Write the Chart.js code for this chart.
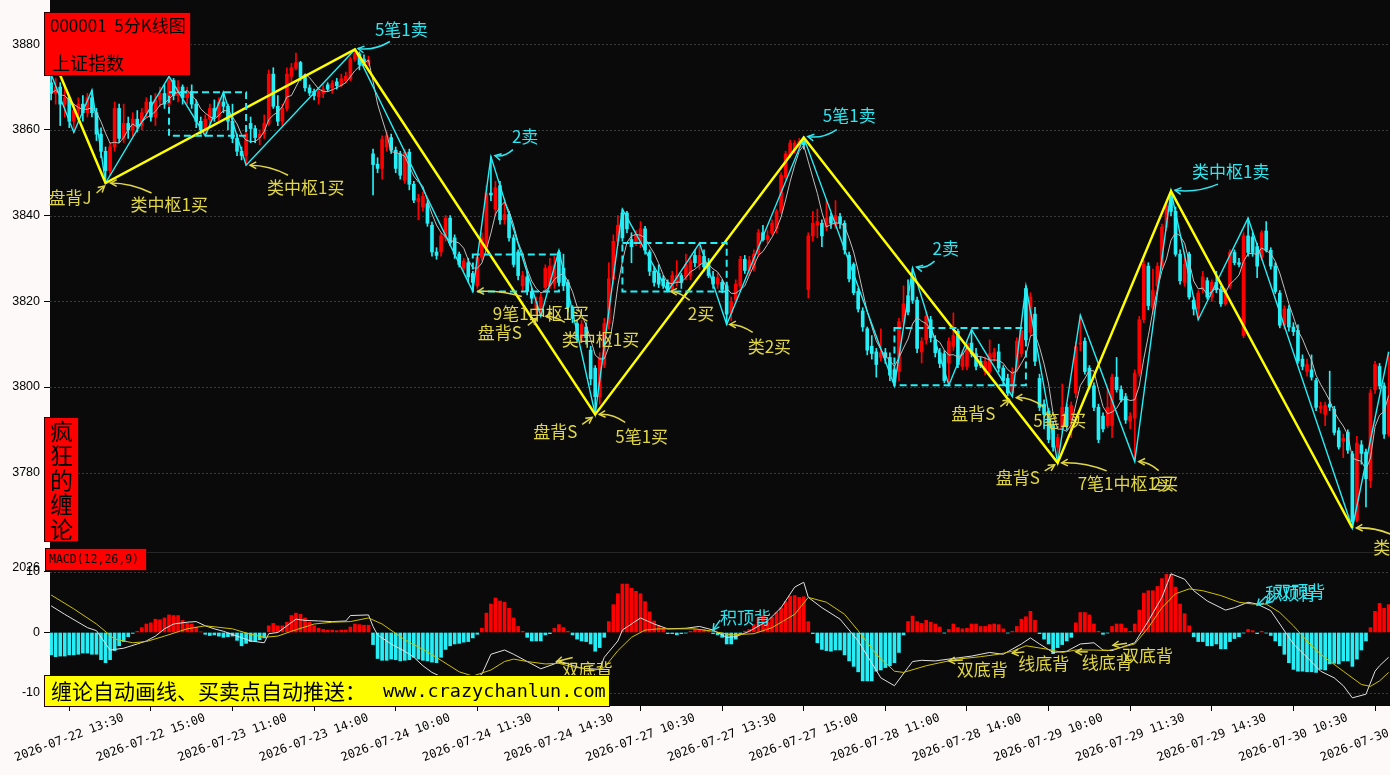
<!DOCTYPE html>
<html>
<head>
<meta charset="utf-8">
<script src="https://cdn.jsdelivr.net/npm/chart.js@4.4.0/dist/chart.umd.min.js"></script>
<style>
  html, body { margin: 0; padding: 0; background: #fcf9f8; }
  #wrap { width: 1390px; height: 775px; }
</style>
</head>
<body>
<div id="wrap"><canvas id="kline" width="1390" height="775"></canvas></div>
<script>
// 5 minute bars, 2026-07-22 13:10 .. 2026-07-30 13:45
const open = [
  3871, 3868.5, 3870, 3866, 3867.5, 3862, 3864.5, 3866, 3864, 3867.5,
  3864, 3859, 3855, 3850.5, 3856, 3865, 3858, 3861.5, 3860, 3862.5,
  3861, 3864, 3866.5, 3863, 3867, 3868.5, 3866, 3871.5, 3868, 3870,
  3867.5, 3869, 3866, 3862, 3860, 3862.5, 3865, 3863, 3866.5, 3865.5,
  3862, 3858, 3855, 3854, 3861.5, 3860.3, 3858.2, 3859, 3861.5, 3873,
  3865.5, 3862, 3865, 3872.5, 3874.4, 3875.7, 3872.3, 3869.8, 3869, 3867.75,
  3868.5, 3870.5, 3869.8, 3871.2, 3870.3, 3871.5, 3871.9, 3876.5, 3877.75, 3876.5,
  3875.5, 3854.4, 3852, 3851, 3856, 3858.2, 3855.25, 3854.4, 3848.2, 3854.8,
  3847.3, 3843.2, 3842, 3842.75, 3837.75, 3831.5, 3831.5, 3834.8, 3839.4, 3834.8,
  3831, 3827.75, 3829, 3826.5, 3823.6, 3830.25, 3832.75, 3845.25, 3841.5, 3847,
  3839, 3840.25, 3834.8, 3831.5, 3823.6, 3825.7, 3822.3, 3818.2, 3818.2, 3823.2,
  3823.6, 3824, 3831.5, 3827.75, 3824.4, 3818.6, 3814.8, 3811.5, 3814, 3808.6,
  3804.4, 3797.75, 3805.25, 3814.8, 3825.25, 3834, 3840.6, 3840.6, 3834.4, 3833.6,
  3833.6, 3836.9, 3831.5, 3827, 3826.5, 3825.25, 3824.4, 3822.75, 3824.4, 3826,
  3825.7, 3826, 3830.7, 3828.6, 3830.5, 3829, 3825.7, 3824, 3824.4, 3823.6,
  3817.3, 3820.25, 3823.6, 3829.8, 3827.2, 3827.75, 3831, 3836, 3834.4, 3836,
  3836.9, 3841, 3849, 3854, 3855.25, 3856, 3857.5, 3822.75, 3835.25, 3837.75,
  3838.2, 3837.3, 3839.75, 3837.75, 3839.75, 3838.2, 3830.75, 3828.6, 3822.3, 3817.75,
  3813.6, 3809.5, 3808.2, 3806.9, 3808, 3806.9, 3804, 3803.6, 3815.25, 3821.3,
  3825.25, 3820.25, 3808.2, 3811, 3815.7, 3811, 3808, 3807.75, 3805.6, 3809.5,
  3813, 3804.8, 3804.8, 3810.25, 3807.75, 3806, 3803.6, 3803.6, 3806.9, 3808.2,
  3804.4, 3802, 3798.6, 3804.4, 3807.75, 3823, 3812.75, 3817, 3802, 3796,
  3794.4, 3791, 3786, 3790.25, 3795.25, 3792.3, 3798.6, 3810, 3810.7, 3804.4,
  3800.25, 3795.25, 3793.2, 3791, 3791, 3802.3, 3799.4, 3797.75, 3792, 3792.75,
  3803.2, 3815.7, 3828.2, 3818.5, 3823.6, 3828.2, 3837.3, 3844.4, 3841, 3831,
  3824.4, 3831, 3820.25, 3818.2, 3822.75, 3824.8, 3821, 3824.4, 3822.75, 3819.4,
  3823.6, 3831.4, 3829, 3812, 3835.25, 3835, 3832.75, 3830.25, 3836.4, 3831.9,
  3828.2, 3821.9, 3814.4, 3818.2, 3814, 3813.2, 3806.5, 3803.6, 3804, 3801.5,
  3795, 3793.6, 3796, 3794.8, 3789.8, 3787.3, 3789.4, 3784.4, 3768.9, 3786.5,
  3784.8, 3778.2, 3799.4, 3804.8, 3800.25, 3789
];
const high = [
  3873, 3872, 3871, 3870, 3868, 3866, 3867.5, 3868, 3868.5, 3869.3,
  3865, 3860.5, 3856, 3857, 3866.5, 3866, 3866, 3863, 3864, 3864.5,
  3865, 3867.5, 3868, 3868.5, 3870, 3870.5, 3872.5, 3872, 3871.5, 3870.5,
  3870, 3870.5, 3867, 3863, 3863.5, 3866, 3867, 3867.5, 3868.8, 3866,
  3866, 3859, 3856, 3860.5, 3863, 3861, 3860, 3863.5, 3874, 3874.5,
  3868, 3866, 3874.5, 3875.5, 3877.9, 3876, 3873, 3870.5, 3869.5, 3869.5,
  3870.5, 3871, 3871.5, 3872, 3873, 3873.5, 3877, 3878.75, 3878.2, 3877.5,
  3877.2, 3855.5, 3853.5, 3858.6, 3859.5, 3859, 3856, 3855, 3855.5, 3855.5,
  3848, 3845, 3845.5, 3843.5, 3838.5, 3832.5, 3836, 3840, 3840, 3835.5,
  3831.5, 3830, 3830, 3827, 3831, 3836, 3847, 3853.75, 3848, 3848,
  3844, 3841, 3835.5, 3832, 3827, 3827, 3823, 3821, 3822, 3828.5,
  3830, 3830.5, 3831.9, 3831, 3825, 3819, 3815.5, 3815.5, 3815, 3809.5,
  3805, 3808, 3816, 3829, 3835.5, 3840, 3841.5, 3841, 3836, 3836.5,
  3838.6, 3837.5, 3832, 3828, 3828.5, 3826, 3825, 3827, 3829.5, 3826.5,
  3831, 3830.5, 3832, 3833.6, 3832, 3830, 3827, 3826.5, 3825, 3824,
  3821, 3825, 3830.5, 3830.7, 3830.5, 3832, 3836.8, 3837.7, 3836.5, 3839,
  3841.5, 3850, 3855, 3857.6, 3857.5, 3858, 3858.2, 3836, 3841, 3841.5,
  3839, 3843.5, 3840.5, 3843.5, 3840.5, 3838.8, 3831.5, 3829, 3823, 3818.5,
  3814, 3812, 3809, 3813.6, 3809, 3808, 3805, 3816, 3823.6, 3825,
  3827.75, 3821, 3811.5, 3817.5, 3816.5, 3812, 3809, 3808.5, 3811.5, 3817.3,
  3813.5, 3808.5, 3811, 3813.4, 3809, 3807, 3807, 3811, 3809, 3810,
  3805, 3803, 3804.5, 3811.5, 3814, 3823.6, 3822, 3818.6, 3803, 3797,
  3795, 3792, 3789, 3800.7, 3796, 3796.5, 3810.5, 3816.75, 3811.5, 3805,
  3801, 3796, 3794, 3799.8, 3803, 3806.9, 3800.25, 3798.5, 3794, 3804,
  3816.5, 3829.5, 3829, 3827.5, 3829, 3838, 3843, 3845.7, 3842, 3832,
  3831.5, 3831.5, 3821, 3822.5, 3827, 3825.5, 3825, 3827, 3823.5, 3823,
  3832, 3832, 3830, 3836, 3839.4, 3836, 3833.5, 3836.5, 3838.6, 3832.5,
  3829, 3822.5, 3819, 3819, 3815, 3814.5, 3807.5, 3806.5, 3807.5, 3802,
  3796.5, 3796.5, 3803.7, 3795.5, 3790.5, 3789, 3790, 3785, 3788.5, 3787.5,
  3785.5, 3799.5, 3806, 3805.5, 3801, 3808.2
];
const low = [
  3867, 3866, 3861, 3863, 3860.5, 3859.4, 3862, 3862, 3863, 3863,
  3857.5, 3853.5, 3847.6, 3849.5, 3855, 3857, 3857, 3858, 3858.5, 3859.5,
  3860, 3863, 3862, 3861, 3865.5, 3865, 3865.5, 3867, 3866.5, 3866,
  3866, 3865, 3860.5, 3859, 3858.6, 3861.5, 3862, 3862, 3864, 3860,
  3857, 3854, 3853, 3851.75, 3857, 3857, 3856.5, 3858, 3861, 3865,
  3861, 3861, 3864.5, 3871, 3874, 3871.5, 3869, 3868, 3867, 3866,
  3867.5, 3869, 3868.5, 3869.5, 3870, 3871, 3871.5, 3876, 3874, 3875,
  3875, 3844.8, 3850, 3848.5, 3855, 3854.5, 3850, 3848.5, 3847.5, 3846,
  3843, 3839, 3841, 3837.5, 3830.5, 3829.8, 3830.5, 3834, 3833, 3830,
  3828, 3827, 3824.5, 3822.3, 3823, 3829.5, 3832, 3843.5, 3840, 3838,
  3838, 3834, 3828, 3825, 3822.5, 3821.5, 3819.5, 3817, 3816.5, 3822,
  3823, 3823, 3823.5, 3822.5, 3817.5, 3815, 3810.5, 3810.5, 3810, 3800.5,
  3793.6, 3796, 3804.5, 3813.5, 3824, 3833, 3834, 3836, 3829, 3833,
  3832.5, 3831, 3826, 3823.5, 3823.2, 3823, 3822.3, 3822.5, 3823.5, 3823,
  3825, 3825, 3828, 3827.5, 3827, 3825.5, 3823, 3823, 3822, 3814.6,
  3815.5, 3819.5, 3823, 3826.5, 3826, 3827, 3830.5, 3834, 3833.5, 3835.5,
  3836, 3840.5, 3848.5, 3853.5, 3854.5, 3855.5, 3855.5, 3820.75, 3834, 3834.8,
  3832.75, 3836.5, 3837, 3837, 3837, 3831, 3824.5, 3821.5, 3817.5, 3813,
  3807.5, 3806.5, 3802.3, 3806, 3805.5, 3801.5, 3800.25, 3801.5, 3814.5, 3816.8,
  3819.5, 3808, 3805.6, 3810, 3810.5, 3807, 3804.5, 3801, 3800.4, 3808.5,
  3804.5, 3804, 3804, 3807, 3804, 3804.5, 3802.8, 3803, 3806, 3803.5,
  3800.5, 3798, 3797.75, 3803.5, 3807, 3810.5, 3812, 3805, 3794.5, 3790.2,
  3787, 3785, 3782.3, 3789.5, 3790, 3788.2, 3797.5, 3808.5, 3803, 3799.5,
  3794.5, 3787, 3789.5, 3790.5, 3788.2, 3798.8, 3796.5, 3791.5, 3790.3, 3782.6,
  3802.5, 3815, 3818, 3817, 3822.5, 3827.5, 3836.5, 3840, 3830.5, 3824,
  3823.5, 3820.5, 3816.8, 3815.7, 3822, 3820.5, 3820, 3822, 3818.8, 3819,
  3823, 3828.5, 3828, 3811.5, 3830.5, 3830.5, 3825.5, 3829.5, 3831.5, 3827.5,
  3821.8, 3813.8, 3813.5, 3813, 3812, 3805.5, 3804, 3802.5, 3801.6, 3794.5,
  3794, 3791, 3794.5, 3788.8, 3785.5, 3783.5, 3784.5, 3767.1, 3768.5, 3782,
  3772, 3776.5, 3798.5, 3799.5, 3788, 3788.5
];
const close = [
  3868.5, 3870, 3866, 3867.5, 3862, 3864.5, 3866, 3864, 3867.5, 3864,
  3859, 3855, 3850.5, 3856, 3865, 3858, 3861.5, 3860, 3862.5, 3861,
  3864, 3866.5, 3863, 3867, 3868.5, 3866, 3871.5, 3868, 3870, 3867.5,
  3869, 3866, 3862, 3860, 3862.5, 3865, 3863, 3866.5, 3865.5, 3862,
  3858, 3855, 3854, 3859, 3860.3, 3858.2, 3859, 3861.5, 3873, 3865.5,
  3862, 3865, 3873, 3874.5, 3875.7, 3872.3, 3869.8, 3868.6, 3868, 3869,
  3869.5, 3869.5, 3870.8, 3870.3, 3871.9, 3872.5, 3876.5, 3877.8, 3875.25, 3875.7,
  3876.3, 3851.9, 3851, 3857.75, 3858.6, 3855.25, 3851, 3849.4, 3854.8, 3847.3,
  3843.6, 3844, 3844.5, 3838.2, 3831.5, 3830.7, 3835.25, 3839.4, 3833.6, 3831,
  3828.6, 3829.4, 3825.7, 3824.4, 3830.25, 3834.8, 3845.25, 3844.8, 3846.5, 3839,
  3840.25, 3834.8, 3828.6, 3826, 3826, 3822.3, 3820.7, 3820, 3821, 3827.75,
  3828.2, 3828.5, 3824.4, 3823.6, 3818.6, 3816, 3811.5, 3814.6, 3811.5, 3801.9,
  3797.75, 3806.9, 3814.8, 3825.25, 3834, 3837.75, 3834.8, 3836.9, 3832.75, 3835.7,
  3836.9, 3831.9, 3827, 3824.4, 3824, 3823.6, 3822.5, 3826, 3826, 3824.4,
  3828.6, 3829.4, 3829, 3830.7, 3828, 3826, 3824, 3825.5, 3822.75, 3817,
  3820, 3824, 3829.8, 3827.2, 3829.5, 3831, 3836, 3834.4, 3835.3, 3838.2,
  3841, 3849.4, 3854.4, 3856.9, 3856.9, 3857.3, 3856.5, 3835.25, 3838.2, 3838.6,
  3835.25, 3839.4, 3838.2, 3840, 3838.2, 3832, 3825.25, 3822, 3818.2, 3814,
  3808.6, 3807.8, 3805.25, 3808, 3806.9, 3802.75, 3801.2, 3815.25, 3819.4, 3817.5,
  3820.25, 3809, 3810.7, 3816.5, 3811.5, 3808, 3805.5, 3801.5, 3810.7, 3812,
  3805.25, 3807.75, 3810.2, 3807.75, 3804.8, 3805, 3806, 3807.75, 3808, 3804.4,
  3801.5, 3798.6, 3803.6, 3810.7, 3813.2, 3811, 3821, 3806, 3795.25, 3793.6,
  3787.75, 3786, 3788.2, 3795.25, 3791, 3795.7, 3809.4, 3810.3, 3803.6, 3800.25,
  3795.25, 3787.75, 3790.25, 3795.25, 3802.3, 3799.4, 3797, 3792.3, 3793.2, 3803.2,
  3815.7, 3828.6, 3819, 3822.5, 3828.2, 3837.3, 3842.3, 3841, 3831, 3824.8,
  3828.6, 3821, 3818.2, 3821.9, 3825.7, 3821, 3824.4, 3822.7, 3819.4, 3822.3,
  3831.4, 3829, 3828.6, 3835.25, 3831.4, 3831.4, 3828.2, 3836, 3831.9, 3828.2,
  3822.3, 3814.4, 3818.2, 3814, 3812.9, 3806.1, 3804.8, 3805.25, 3802.3, 3795.25,
  3795.5, 3795.7, 3795.3, 3789.4, 3786, 3788, 3785.25, 3768.6, 3786.9, 3784.5,
  3778.6, 3798.6, 3805.25, 3800.25, 3789, 3797
];
const macdHist = [
  -3.7, -4.0, -3.9, -3.9, -3.7, -3.7, -3.6, -3.4, -3.4, -3.6,
  -3.6, -4.5, -5.0, -4.5, -3.0, -2.2, -1.5, -0.7, -0.15, 0.2,
  0.8, 1.4, 1.6, 2.2, 2.1, 2.4, 2.9, 2.8, 2.8, 2.0,
  1.5, 1.4, 0.9, 0.1, -0.3, -0.5, -0.4, -0.6, -0.8, -0.7,
  -0.6, -1.3, -2.2, -1.8, -1.5, -1.4, -1.2, -0.9, 1.1, 1.5,
  1.1, 1.1, 1.7, 2.8, 3.2, 3.0, 2.4, 1.7, 1.1, 0.7,
  0.5, 0.4, 0.4, 0.3, 0.4, 0.4, 0.9, 1.4, 1.3, 1.2,
  1.2, -2.0, -4.3, -4.6, -4.6, -4.4, -4.5, -4.7, -4.6, -4.5,
  -4.1, -4.4, -4.6, -4.7, -4.9, -5.0, -4.1, -2.8, -2.2, -1.9,
  -1.8, -1.6, -1.5, -0.9, -0.3, 0.7, 3.2, 4.7, 5.7, 5.2,
  5.0, 4.0, 2.4, 1.0, 0.2, -0.8, -1.4, -1.4, -1.4, -0.4,
  -0.2, 0.7, 1.3, 0.8, 0.2, -0.4, -1.1, -1.4, -1.5, -1.9,
  -3.1, -2.5, -0.8, 1.8, 4.6, 6.4, 8.0, 8.0, 7.3, 6.8,
  6.4, 5.1, 3.4, 1.9, 1.1, 0.7, -0.2, -0.2, -0.4, -0.2,
  -0.1, 0.2, 0.5, 0.5, 0.5, 0.3, -0.2, -0.4, -0.8, -1.9,
  -1.9, -1.1, -0.2, 0.2, 0.5, 1.3, 2.3, 2.8, 1.8, 2.5,
  3.3, 4.1, 5.1, 6.0, 6.1, 5.8, 5.9, 1.8, -0.2, -1.7,
  -2.8, -3.0, -3.1, -2.9, -2.9, -3.7, -4.7, -5.6, -6.5, -8.0,
  -8.0, -8.0, -6.4, -6.2, -5.8, -5.5, -5.0, -3.3, -0.4, 1.8,
  2.7, 1.8, 1.5, 2.0, 1.7, 1.4, 0.9, -0.1, 0.5, 1.4,
  0.8, 0.6, 0.7, 1.4, 1.4, 1.0, 1.0, 1.3, 1.4, 1.3,
  0.6, -0.1, 0.2, 1.0, 2.2, 2.6, 3.5, 2.0, -0.2, -1.1,
  -1.9, -3.5, -2.5, -2.0, -1.4, -0.8, 1.6, 3.3, 3.3, 2.9,
  1.4, 0.2, -0.3, -0.1, 1.0, 1.4, 1.4, 0.7, 0.2, 1.4,
  3.7, 6.5, 6.9, 6.9, 7.6, 8.9, 9.6, 9.6, 7.5, 4.7,
  3.1, 1.1, -0.7, -1.5, -1.5, -2.2, -2.2, -1.9, -2.7, -2.7,
  -1.5, -1.0, -0.7, -0.1, 0.5, 0.3, -0.2, 0.2, -0.1, -0.5,
  -1.4, -2.2, -3.6, -5.0, -6.1, -6.4, -6.4, -6.5, -6.5, -6.6,
  -6.1, -6.2, -5.2, -5.1, -5.2, -4.7, -4.7, -5.6, -4.4, -2.9,
  -1.4, 0.8, 3.5, 4.8, 4.0, 4.6
];
// DIF / DEA at [bar, value]
const difPoints = [
  [0,4.4],[3,3.0],[8,0.8],[10,0.3],[13,-2.9],[16,-2.6],[19,-1.9],[21,-1.4],[23,-0.6],[25,0.6],
  [27,1.4],[30,1.7],[32,1.8],[34,1.1],[36,0.6],[38,0.2],[41,-0.6],[44,-1.4],[47,-1.7],[48,-0.2],
  [50,0],[52,1.1],[54,2.2],[56,2.0],[59,1.9],[62,1.8],[65,1.9],[66,2.8],[70,2.9],[71,1.0],
  [72,-0.4],[75,-1.9],[78,-3.1],[80,-4.1],[82,-5.5],[84,-6.6],[88,-8.0],[92,-8.2],[95,-6.9],[97,-3.6],
  [100,-2.9],[102,-3.6],[108,-6.0],[111,-5.2],[112,-4.7],[114,-5.2],[117,-5.9],[121,-6.1],[122,-4.1],[125,-1.4],
  [126,0.4],[130,2.4],[133,1.4],[136,0.6],[140,0.7],[143,1.0],[146,0.4],[149,-0.8],[151,-0.7],[154,0.2],
  [158,1.9],[161,4.1],[164,7.5],[166,8.3],[167,5.8],[170,4.1],[174,2.2],[178,-1.4],[183,-7.5],[186,-8.8],
  [189,-5.8],[190,-4.8],[192,-4.6],[195,-4.7],[198,-4.4],[203,-3.9],[207,-3.3],[210,-3.6],[214,-1.9],[216,-0.9],
  [218,-1.9],[221,-3.3],[224,-3.1],[227,-1.9],[230,-1.7],[232,-2.9],[234,-3.0],[237,-2.2],[239,-1.7],[242,1.9],
  [245,5.8],[247,9.7],[250,8.8],[252,6.9],[255,5.2],[259,3.7],[261,4.1],[264,5.0],[266,4.7],[269,3.6],
  [271,1.4],[274,-1.9],[277,-4.1],[280,-6.4],[283,-7.5],[285,-8.8],[287,-10.8],[290,-10.2],[292,-6.4],[293,-5.5],
  [295,-4.1]
];
const deaPoints = [
  [0,6.2],[5,3.9],[10,1.4],[14,-1.1],[18,-1.7],[21,-1.5],[25,-0.6],[30,0.6],[34,1.1],[40,0.6],
  [44,-0.3],[47,-0.8],[50,-0.6],[53,0.2],[58,1.4],[62,1.7],[66,1.8],[70,2.4],[73,1.4],[78,-1.2],
  [83,-3.2],[86,-4.6],[90,-6.5],[93,-7.2],[97,-6.2],[100,-4.8],[102,-4.4],[105,-4.8],[109,-5.2],[112,-5.1],
  [115,-5.7],[120,-6.2],[122,-5.8],[125,-3.0],[128,-0.8],[131,0.4],[134,0.6],[142,0.6],[146,0.2],[150,-0.4],
  [155,-0.2],[159,0.8],[164,3.0],[167,5.8],[171,5.0],[175,3.0],[178,0.3],[182,-3.6],[186,-6.4],[188,-6.6],
  [193,-5.5],[196,-5.0],[200,-4.4],[205,-4.0],[209,-3.6],[212,-3.1],[215,-2.2],[220,-2.8],[223,-3.3],[226,-2.9],
  [230,-2.9],[233,-3.0],[236,-2.5],[239,-1.9],[242,0.8],[245,4.1],[248,6.4],[251,7.2],[254,6.9],[258,6.1],
  [262,5.0],[265,4.7],[268,4.7],[271,3.3],[274,1.1],[277,-1.4],[280,-3.6],[285,-6.4],[289,-8.6],[291,-8.9],
  [293,-8.0],[295,-6.6]
];
// 笔 (cyan zigzag) and 线段 (yellow) vertices [bar, price]
const biPoints = [
  [0,3873],[5,3859.4],[9,3869.3],[12,3847.6],[26,3872.5],[34,3858.6],[38,3868.8],[43,3851.75],
  [67,3878.75],[93,3822.3],[97,3853.75],[108,3816.5],[112,3831.9],[120,3793.6],[126,3841.5],
  [136,3822.3],[143,3833.6],[149,3814.6],[166,3858.2],[186,3800.25],[190,3827.75],[198,3800.4],
  [203,3813.4],[212,3797.75],[215,3823.6],[222,3782.3],[227,3816.75],[239,3782.6],[247,3845.7],
  [253,3815.7],[264,3839.4],[287,3767.1],[295,3808.2]
];
const segPoints = [
  [-0.25,3878.4],[12,3847.6],[67,3878.75],[120,3793.6],[166,3858.2],[222,3782.3],[247,3845.7],[287,3767.1]
];
// 中枢 boxes [fromBar, toBar, low, high]
const centers = [
  [26, 43, 3858.6, 3868.8],
  [93, 112, 3822.3, 3830.9],
  [126, 149, 3822.3, 3833.6],
  [186, 215, 3800.4, 3813.75]
];
const priceTicks = [3780, 3800, 3820, 3840, 3860, 3880];
const macdTicks = [-10, 0, 10];
const tickLabels = [
  '2026-07-22 13:30', '2026-07-22 15:00', '2026-07-23 11:00', '2026-07-23 14:00',
  '2026-07-24 10:00', '2026-07-24 11:30', '2026-07-24 14:30', '2026-07-27 10:30',
  '2026-07-27 13:30', '2026-07-27 15:00', '2026-07-28 11:00', '2026-07-28 14:00',
  '2026-07-29 10:00', '2026-07-29 11:30', '2026-07-29 14:30', '2026-07-30 10:30',
  '2026-07-30 13:30'
];
const firstTickBar = 4, tickStep = 18;

const RED = '#ff0000', CYAN = '#26eef6', YELLOW = '#ffff00';
const NOTE_Y = '#e0d646', NOTE_C = '#2fe6f0';
const CJK = '"Noto Sans CJK SC", sans-serif';

// buy/sell point labels anchored on a vertex, offsets in px
const mainNotes = [
  { t: '5笔1卖', c: NOTE_C, bar: 67, p: 3878.75, tx: 20, ty: -20, ax: 35, ay: -8, hx: 3, hy: -1, bend: 6 },
  { t: '盘背J', c: NOTE_Y, bar: 12, p: 3847.6, tx: -57, ty: 15, ax: -9, ay: 10, hx: -1, hy: 3, bend: 0 },
  { t: '类中枢1买', c: NOTE_Y, bar: 12, p: 3847.6, tx: 25, ty: 22, ax: 46, ay: 10, hx: 5, hy: 0, bend: -5 },
  { t: '类中枢1买', c: NOTE_Y, bar: 43, p: 3851.75, tx: 21, ty: 22, ax: 42, ay: 10, hx: 4, hy: 0, bend: -5 },
  { t: '2卖', c: NOTE_C, bar: 97, p: 3853.75, tx: 21, ty: -20, ax: 22, ay: -7, hx: 4, hy: -1, bend: 5 },
  { t: '9笔1中枢1买', c: NOTE_Y, bar: 93, p: 3822.3, tx: 20, ty: 22, ax: 49, ay: 5, hx: 5, hy: 0, bend: -4 },
  { t: '盘背S', c: NOTE_Y, bar: 108, p: 3816.5, tx: -63, ty: 16, ax: -13, ay: 9, hx: -4, hy: 2, bend: 0 },
  { t: '类中枢1买', c: NOTE_Y, bar: 108, p: 3816.5, tx: 21, ty: 23, ax: 24, ay: 6, hx: 5, hy: 0, bend: -3 },
  { t: '盘背S', c: NOTE_Y, bar: 120, p: 3793.6, tx: -62, ty: 17, ax: -13, ay: 10, hx: -3, hy: 3, bend: 0 },
  { t: '5笔1买', c: NOTE_Y, bar: 120, p: 3793.6, tx: 20, ty: 22, ax: 30, ay: 8, hx: 4, hy: 0, bend: -5 },
  { t: '2买', c: NOTE_Y, bar: 136, p: 3822.3, tx: 20, ty: 22, ax: 22, ay: 9, hx: 3, hy: 0, bend: -4 },
  { t: '类2买', c: NOTE_Y, bar: 149, p: 3814.6, tx: 21, ty: 22, ax: 26, ay: 8, hx: 3, hy: 0, bend: -4 },
  { t: '5笔1卖', c: NOTE_C, bar: 166, p: 3858.2, tx: 19, ty: -22, ax: 33, ay: -8, hx: 4, hy: -1, bend: 6 },
  { t: '2卖', c: NOTE_C, bar: 190, p: 3827.75, tx: 20, ty: -20, ax: 22, ay: -7, hx: 4, hy: -1, bend: 5 },
  { t: '盘背S', c: NOTE_Y, bar: 212, p: 3797.75, tx: -61, ty: 17, ax: -12, ay: 10, hx: -3, hy: 3, bend: 0 },
  { t: '5笔1买', c: NOTE_Y, bar: 212, p: 3797.75, tx: 21, ty: 24, ax: 31, ay: 10, hx: 4, hy: 1, bend: -5 },
  { t: '盘背S', c: NOTE_Y, bar: 222, p: 3782.3, tx: -62, ty: 15, ax: -13, ay: 8, hx: -3, hy: 2, bend: 0 },
  { t: '7笔1中枢1买', c: NOTE_Y, bar: 222, p: 3782.3, tx: 20, ty: 21, ax: 49, ay: 8, hx: 4, hy: 0, bend: -5 },
  { t: '2买', c: NOTE_Y, bar: 239, p: 3782.6, tx: 17, ty: 22, ax: 24, ay: 9, hx: 4, hy: 0, bend: -4 },
  { t: '类中枢1卖', c: NOTE_C, bar: 247, p: 3845.7, tx: 21, ty: -20, ax: 47, ay: -7, hx: 4, hy: -1, bend: 6 },
  { t: '类中枢1买', c: NOTE_Y, bar: 287, p: 3767.1, tx: 21, ty: 20, ax: 38, ay: 6, hx: 4, hy: 0, bend: -4 }
];
const macdNotes = [
  { t: '双底背', c: NOTE_Y, bar: 111.5, v: -4.8, tx: 5, ty: 8, ax: 16, ay: -4 },
  { t: '积顶背', c: NOTE_C, bar: 146, v: 0.4, tx: 7, ty: -13, ax: 7, ay: -10 },
  { t: '双底背', c: NOTE_Y, bar: 198, v: -4.7, tx: 8, ty: 9, ax: 14, ay: -1 },
  { t: '线底背', c: NOTE_Y, bar: 212, v: -3.4, tx: 6, ty: 10, ax: 12, ay: -1 },
  { t: '线底背', c: NOTE_Y, bar: 226, v: -3.2, tx: 6, ty: 11, ax: 12, ay: 0 },
  { t: '双底背', c: NOTE_Y, bar: 234.2, v: -2.1, tx: 9, ty: 10, ax: 14, ay: -2 },
  { t: '积顶背', c: NOTE_C, bar: 266, v: 4.5, tx: 8, ty: -12, ax: 9, ay: -9 },
  { t: '双顶背', c: NOTE_C, bar: 268, v: 4.8, tx: 8, ty: -12, ax: 9, ay: -9 }
];

const idx = close.map((_, i) => i);
const candleColor = idx.map(i => close[i] >= open[i] ? RED : CYAN);
// MA5 of the closes (shorter window for the first bars)
const ma5 = idx.map(i => {
  const from = Math.max(0, i - 4);
  let s = 0;
  for (let k = from; k <= i; k++) s += close[k];
  return s / (i - from + 1);
});

function arrowTo(ctx, x1, y1, x2, y2, bend) {
  const mx = (x1 + x2) / 2, my = (y1 + y2) / 2 + bend;
  ctx.beginPath();
  ctx.moveTo(x1, y1);
  ctx.quadraticCurveTo(mx, my, x2, y2);
  ctx.stroke();
  const a = Math.atan2(y2 - my, x2 - mx), h = 7;
  ctx.beginPath();
  ctx.moveTo(x2 - h * Math.cos(a - 0.5), y2 - h * Math.sin(a - 0.5));
  ctx.lineTo(x2, y2);
  ctx.lineTo(x2 - h * Math.cos(a + 0.5), y2 - h * Math.sin(a + 0.5));
  ctx.stroke();
}

const panes = {
  id: 'panes',
  beforeDraw(chart) {
    const { ctx, chartArea: a, scales } = chart;
    ctx.save();
    ctx.fillStyle = '#fcf9f8';
    ctx.fillRect(0, 0, chart.width, chart.height);
    ctx.fillStyle = '#0a0a0a';
    ctx.fillRect(a.left, a.top, a.right - a.left, a.bottom - a.top);
    ctx.strokeStyle = '#3a3a3a';
    ctx.lineWidth = 1;
    ctx.setLineDash([2, 2]);
    const hline = y => {
      ctx.beginPath();
      ctx.moveTo(a.left, Math.round(y) + 0.5);
      ctx.lineTo(a.right, Math.round(y) + 0.5);
      ctx.stroke();
    };
    priceTicks.forEach(v => hline(scales.y.getPixelForValue(v)));
    [10, -10].forEach(v => hline(scales.y2.getPixelForValue(v)));
    ctx.setLineDash([]);
    ctx.strokeStyle = '#262626';
    hline(scales.y2.top);
    ctx.restore();
  },
  afterDatasetsDraw(chart) {
    const { ctx, scales } = chart;
    const X = v => scales.x.getPixelForValue(v);
    const Y = v => scales.y.getPixelForValue(v);
    const Y2 = v => scales.y2.getPixelForValue(v);
    ctx.save();
    ctx.strokeStyle = CYAN;
    ctx.lineWidth = 2;
    ctx.setLineDash([7, 4]);
    centers.forEach(([b0, b1, lo, hi]) => {
      ctx.strokeRect(X(b0), Y(hi), X(b1) - X(b0), Y(lo) - Y(hi));
    });
    ctx.setLineDash([]);
    ctx.font = '17px ' + CJK;
    ctx.textBaseline = 'middle';
    ctx.textAlign = 'left';
    ctx.lineWidth = 1.5;
    mainNotes.forEach(n => {
      const px = X(n.bar), py = Y(n.p);
      ctx.fillStyle = n.c;
      ctx.strokeStyle = n.c;
      ctx.fillText(n.t, px + n.tx, py + n.ty);
      arrowTo(ctx, px + n.ax, py + n.ay, px + n.hx, py + n.hy, n.bend);
    });
    macdNotes.forEach(n => {
      const px = X(n.bar), py = Y2(n.v);
      ctx.fillStyle = n.c;
      ctx.strokeStyle = n.c;
      ctx.fillText(n.t, px + n.tx, py + n.ty);
      arrowTo(ctx, px + n.ax, py + n.ay, px, py, 0);
    });
    ctx.restore();
  },
  afterDraw(chart) {
    const { ctx, scales } = chart;
    ctx.save();
    // rotated time labels centred on their ticks
    ctx.fillStyle = '#000';
    ctx.font = '12px "DejaVu Sans Mono", monospace';
    ctx.textAlign = 'center';
    ctx.textBaseline = 'middle';
    scales.x.ticks.forEach((t, k) => {
      ctx.save();
      ctx.translate(scales.x.getPixelForValue(t.value), 738);
      ctx.rotate(-0.36);
      ctx.fillText(tickLabels[k], 0, 0);
      ctx.restore();
    });
    ctx.font = '12.5px "Liberation Sans", Arial, sans-serif';
    ctx.textAlign = 'right';
    ctx.fillText('2026', 40, 568);

    const box = (x, y, w, h, fill) => {
      ctx.fillStyle = fill;
      ctx.fillRect(x, y, w, h);
      ctx.strokeStyle = '#2a0000';
      ctx.lineWidth = 1;
      ctx.strokeRect(x + 0.5, y + 0.5, w - 1, h - 1);
    };
    ctx.textAlign = 'left';
    box(44, 12, 147, 64, RED);
    ctx.fillStyle = '#000';
    ctx.font = '17px ' + CJK;
    ctx.fillText('000001  5分K线图', 50, 26);
    ctx.font = '18px ' + CJK;
    ctx.fillText('上证指数', 52, 63);

    box(44, 417, 35, 125, RED);
    ctx.fillStyle = '#000';
    ctx.font = '23px ' + CJK;
    ctx.textAlign = 'center';
    ['疯', '狂', '的', '缠', '论'].forEach((ch, k) => ctx.fillText(ch, 61.5, 431 + k * 24.5));

    box(45, 548, 102, 23, RED);
    ctx.fillStyle = '#000';
    ctx.textAlign = 'left';
    ctx.font = '11.5px "DejaVu Sans Mono", monospace';
    ctx.fillText('MACD(12,26,9)', 49, 560);

    box(44, 675, 566, 32, YELLOW);
    ctx.fillStyle = '#000';
    ctx.font = '21px ' + CJK;
    ctx.fillText('缠论自动画线、买卖点自动推送：', 51, 691);
    ctx.font = '18.5px "DejaVu Sans Mono", monospace';
    ctx.fillText('www.crazychanlun.com', 383, 692);
    ctx.restore();
  }
};

const yTickFont = { family: '"Liberation Sans", Arial, sans-serif', size: 12.5 };
const noPad = s => { s.paddingTop = 0; s.paddingBottom = 0; s.paddingLeft = 0; s.paddingRight = 0; };

new Chart(document.getElementById('kline'), {
  type: 'bar',
  data: {
    datasets: [
      { type: 'line', label: '线段', data: segPoints.map(([x, y]) => ({ x, y })), yAxisID: 'y',
        borderColor: YELLOW, borderWidth: 2.5, pointRadius: 0, tension: 0, order: 1 },
      { type: 'line', label: '笔', data: biPoints.map(([x, y]) => ({ x, y })), yAxisID: 'y',
        borderColor: CYAN, borderWidth: 1.4, pointRadius: 0, tension: 0, order: 2 },
      { type: 'line', label: 'MA5', data: idx.map(i => ({ x: i, y: ma5[i] })), yAxisID: 'y',
        borderColor: '#bdbdbd', borderWidth: 1, pointRadius: 0, tension: 0, order: 3 },
      { label: 'body', data: idx.map(i => ({ x: i, y: [open[i], close[i]] })), yAxisID: 'y',
        backgroundColor: candleColor, barThickness: 3, minBarLength: 1, grouped: false, order: 4 },
      { label: 'wick', data: idx.map(i => ({ x: i, y: [low[i], high[i]] })), yAxisID: 'y',
        backgroundColor: candleColor, barThickness: 1, grouped: false, order: 5 },
      { type: 'line', label: 'DEA', data: deaPoints.map(([x, y]) => ({ x, y })), yAxisID: 'y2',
        borderColor: '#cfc000', borderWidth: 1, pointRadius: 0, tension: 0, order: 6 },
      { type: 'line', label: 'DIF', data: difPoints.map(([x, y]) => ({ x, y })), yAxisID: 'y2',
        borderColor: '#e0e0e0', borderWidth: 1, pointRadius: 0, tension: 0, order: 7 },
      { label: 'MACD', data: idx.map(i => ({ x: i, y: macdHist[i] })), yAxisID: 'y2',
        backgroundColor: macdHist.map(v => v >= 0 ? RED : CYAN), barThickness: 3, grouped: false, order: 8 }
    ]
  },
  options: {
    responsive: false,
    animation: false,
    devicePixelRatio: 1,
    events: [],
    layout: { padding: 0 },
    plugins: { legend: { display: false }, tooltip: { enabled: false } },
    scales: {
      x: {
        type: 'linear', position: 'bottom', min: -0.25, max: 295.3, offset: false,
        afterBuildTicks: s => { s.ticks = tickLabels.map((_, k) => ({ value: firstTickBar + k * tickStep })); },
        afterFit: s => { s.height = 69; noPad(s); },
        ticks: { display: false },
        grid: { offset: false, drawOnChartArea: false, drawTicks: true, tickLength: 5, tickColor: '#000', color: '#000' },
        border: { display: false }
      },
      y: {
        type: 'linear', position: 'left', stack: 'pane', stackWeight: 552, weight: 1,
        min: 3761.5, max: 3890.3,
        afterBuildTicks: s => { s.ticks = priceTicks.map(v => ({ value: v })); },
        afterFit: s => { s.width = 50; noPad(s); },
        ticks: { color: '#000', font: yTickFont, padding: 4, callback: v => String(v) },
        grid: { drawOnChartArea: false, tickLength: 6, tickColor: '#000', color: '#000' },
        border: { display: false }
      },
      y2: {
        type: 'linear', position: 'left', stack: 'pane', stackWeight: 154, weight: 0,
        min: -12.15, max: 13.3,
        afterBuildTicks: s => { s.ticks = macdTicks.map(v => ({ value: v })); },
        afterFit: s => { s.width = 50; noPad(s); },
        ticks: { color: '#000', font: yTickFont, padding: 4, callback: v => String(v) },
        grid: { drawOnChartArea: false, tickLength: 6, tickColor: '#000', color: '#000' },
        border: { display: false }
      }
    }
  },
  plugins: [panes]
});
</script>
</body>
</html>
